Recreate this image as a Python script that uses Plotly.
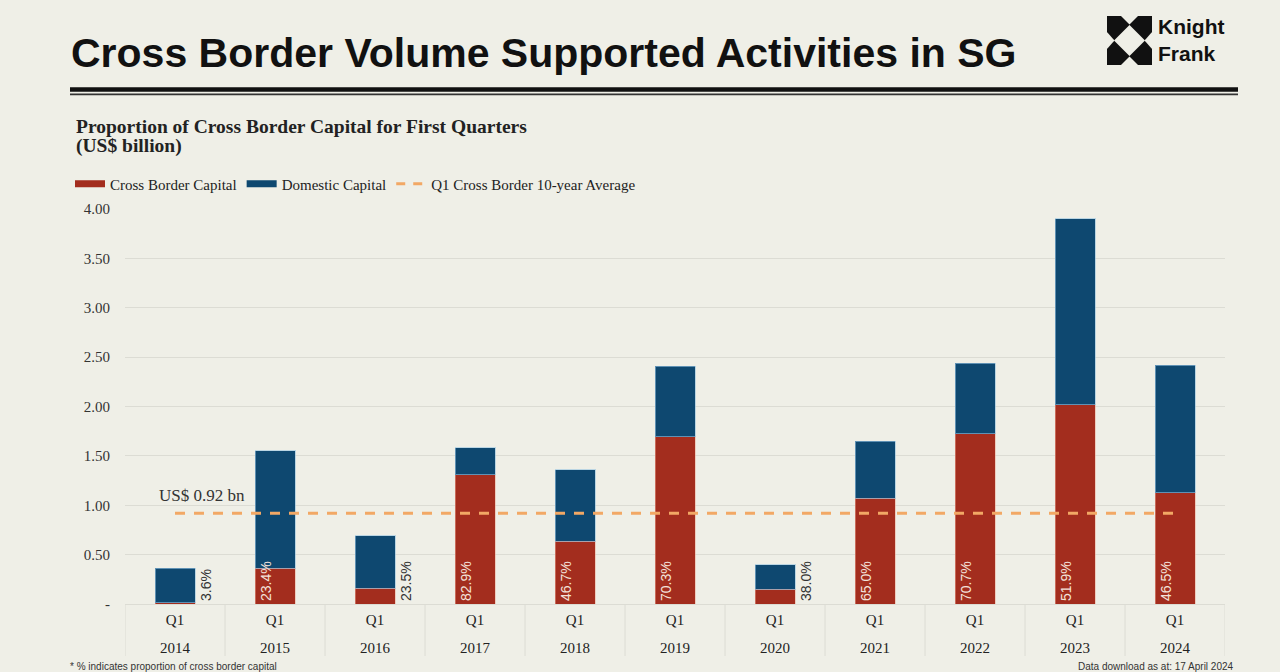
import plotly.graph_objects as go

# ---------------- data ----------------
years = ["2014", "2015", "2016", "2017", "2018", "2019", "2020", "2021", "2022", "2023", "2024"]
quarter = ["Q1"] * len(years)
cross_border = [0.013, 0.363, 0.162, 1.31, 0.635, 1.695, 0.15, 1.07, 1.725, 2.02, 1.125]
domestic = [0.347, 1.187, 0.528, 0.27, 0.725, 0.715, 0.245, 0.58, 0.715, 1.88, 1.295]
pct_labels = ["3.6%", "23.4%", "23.5%", "82.9%", "46.7%", "70.3%", "38.0%", "65.0%", "70.7%", "51.9%", "46.5%"]
label_outside = [True, False, True, False, False, False, True, False, False, False, False]
avg_value = 0.92
avg_label = "US$ 0.92 bn"
y_tickvals = [0, 0.5, 1.0, 1.5, 2.0, 2.5, 3.0, 3.5, 4.0]
y_ticktext = ["-", "0.50", "1.00", "1.50", "2.00", "2.50", "3.00", "3.50", "4.00"]

# ---------------- style ----------------
BG = "#EFEFE7"
RED = "#A32D1E"
BLUE = "#0E4870"
ORANGE = "#F2A865"
GRID = "#DCDCD4"
SERIF = "Liberation Serif, Times New Roman, serif"
SANS = "Liberation Sans, Arial, sans-serif"
NARROW = "Liberation Sans Narrow, Liberation Sans, Arial, sans-serif"

OFF = 8  # page body margin
W, H = 1280 - OFF, 672 - OFF
L, R, T, B = 125 - OFF, 1280 - 1225, 209 - OFF, 672 - 604


def px(x):
    return (x - OFF - L) / (W - L - R)


def py(y):
    return (H - B - (y - OFF)) / (H - T - B)


fig = go.Figure()
fig.add_trace(go.Bar(x=years, y=cross_border, name="Cross Border Capital",
                     marker=dict(color=RED, line=dict(color="rgba(240,170,150,0.5)", width=1)),
                     width=0.4, showlegend=False, hoverinfo="y"))
fig.add_trace(go.Bar(x=years, y=domestic, name="Domestic Capital",
                     marker=dict(color=BLUE, line=dict(color="rgba(150,195,225,0.6)", width=1)),
                     width=0.4, showlegend=False, hoverinfo="y"))
# average line
fig.add_trace(go.Scatter(x=[years[0], years[-1]], y=[avg_value, avg_value], mode="lines",
                         line=dict(color=ORANGE, width=3, dash="10px,9px"),
                         showlegend=False, hoverinfo="skip"))
# year labels axis carrier
fig.add_trace(go.Scatter(x=years, y=[None] * len(years), xaxis="x2", mode="markers",
                         showlegend=False, hoverinfo="skip"))
# legend entries
fig.add_trace(go.Scatter(x=[years[0]], y=[None], mode="lines",
                         name="Cross Border Capital", line=dict(color=RED, width=7)))
fig.add_trace(go.Scatter(x=[years[0]], y=[None], mode="lines",
                         name="Domestic Capital", line=dict(color=BLUE, width=7)))
fig.add_trace(go.Scatter(x=[years[0]], y=[None], mode="lines",
                         name="Q1 Cross Border 10-year Average",
                         line=dict(color=ORANGE, width=3, dash="9px,8px")))

fig.update_layout(
    barmode="stack",
    width=W, height=H,
    margin=dict(l=L, r=R, t=T, b=B, pad=0),
    paper_bgcolor=BG, plot_bgcolor=BG,
    legend=dict(orientation="h", x=px(70), y=py(184), xanchor="left", yanchor="middle",
                font=dict(family=SERIF, size=15, color="#222"), bgcolor="rgba(0,0,0,0)",
                itemwidth=30, tracegroupgap=0, traceorder="normal"),
    showlegend=True,
    xaxis=dict(type="category", range=[-0.5, len(years) - 0.5], tickvals=years, ticktext=quarter,
               showgrid=False, showline=True, linecolor=GRID, linewidth=1, ticks="",
               ticklabelstandoff=2, tickfont=dict(family=SERIF, size=15, color="#222")),
    xaxis2=dict(type="category", overlaying="x", anchor="y", side="bottom",
                range=[-0.5, len(years) - 0.5], tickvals=years, ticktext=years,
                showgrid=False, showline=False, ticks="", ticklabelstandoff=33,
                tickfont=dict(family=SERIF, size=15, color="#222")),
    yaxis=dict(range=[0, 4.0], tickvals=y_tickvals, ticktext=y_ticktext,
               showgrid=True, gridcolor=GRID, gridwidth=1, zeroline=False,
               showline=False, ticks="", ticklabelstandoff=14,
               tickfont=dict(family=SERIF, size=15, color="#333")),
)

annotations = []
for i, (lab, out) in enumerate(zip(pct_labels, label_outside)):
    annotations.append(dict(x=i, y=0, xref="x", yref="y", text=lab, textangle=-90,
                            showarrow=False, xanchor="center", yanchor="bottom",
                            xshift=31 if out else -9, yshift=1,
                            font=dict(family=NARROW, size=14,
                                      color="#333" if out else "#F3E2DA")))
annotations.append(dict(x=0, y=avg_value, xref="x", yref="y", text=avg_label, showarrow=False,
                        xanchor="left", yanchor="bottom", xshift=-18, yshift=6,
                        font=dict(family=SERIF, size=17, color="#333")))
# title and texts
annotations.append(dict(x=px(69), y=py(53), xref="paper", yref="paper", showarrow=False,
                        xanchor="left", yanchor="middle",
                        text="<b>Cross Border Volume Supported Activities in SG</b>",
                        font=dict(family=SANS, size=41, color="#111")))
annotations.append(dict(x=px(74), y=py(126), xref="paper", yref="paper", showarrow=False,
                        xanchor="left", yanchor="middle",
                        text="<b>Proportion of Cross Border Capital for First Quarters</b>",
                        font=dict(family=SERIF, size=19.5, color="#222")))
annotations.append(dict(x=px(74), y=py(146), xref="paper", yref="paper", showarrow=False,
                        xanchor="left", yanchor="middle", text="<b>(US$ billion)</b>",
                        font=dict(family=SERIF, size=19.5, color="#222")))
annotations.append(dict(x=px(68), y=py(666), xref="paper", yref="paper", showarrow=False,
                        xanchor="left", yanchor="middle",
                        text="* % indicates proportion of cross border capital",
                        font=dict(family=SANS, size=10, color="#333")))
annotations.append(dict(x=px(1236), y=py(666), xref="paper", yref="paper", showarrow=False,
                        xanchor="right", yanchor="middle",
                        text="Data download as at: 17 April 2024",
                        font=dict(family=SANS, size=10, color="#333")))
annotations.append(dict(x=px(1156), y=py(40), xref="paper", yref="paper", showarrow=False,
                        xanchor="left", yanchor="middle", align="left",
                        text="<b>Knight<br>Frank</b>",
                        font=dict(family=SANS, size=21, color="#111")))
fig.update_layout(annotations=annotations)

# decorative shapes: title rules, table dividers and logo
shapes = [
    dict(type="line", xref="paper", yref="paper", x0=px(70), x1=px(1238), y0=py(89.5), y1=py(89.5),
         line=dict(color="#111", width=4.5)),
    dict(type="line", xref="paper", yref="paper", x0=px(70), x1=px(1238), y0=py(94.3), y1=py(94.3),
         line=dict(color="#333", width=1.7)),
]
for i in range(len(years) + 1):
    shapes.append(dict(type="line", xref="x", yref="paper", x0=i - 0.5, x1=i - 0.5,
                       y0=0, y1=py(656), line=dict(color=GRID, width=1)))
shapes.append(dict(type="rect", xref="paper", yref="paper", x0=px(1107), x1=px(1152),
                   y0=py(16), y1=py(65), fillcolor="#111", line=dict(width=0)))
cx, cy = 1129.5, 40.5


def poly(pts):
    s = "M " + " L ".join(f"{px(a)},{py(b)}" for a, b in pts) + " Z"
    return dict(type="path", xref="paper", yref="paper", path=s, fillcolor=BG, line=dict(width=0))


shapes.append(poly([(cx, 25), (1145, cy), (cx, 56), (1114, cy)]))
shapes.append(poly([(1120.5, 15.5), (1138.5, 15.5), (cx, 24.5)]))
shapes.append(poly([(1120.5, 65.5), (1138.5, 65.5), (cx, 56.5)]))
shapes.append(poly([(1106.5, 31.5), (1106.5, 49.5), (1114.5, cy)]))
shapes.append(poly([(1152.5, 31.5), (1152.5, 49.5), (1144.5, cy)]))
fig.update_layout(shapes=shapes)

fig.write_html("out.html",
               post_script=f"document.body.style.backgroundColor='{BG}';"
                           f"document.documentElement.style.backgroundColor='{BG}';")
